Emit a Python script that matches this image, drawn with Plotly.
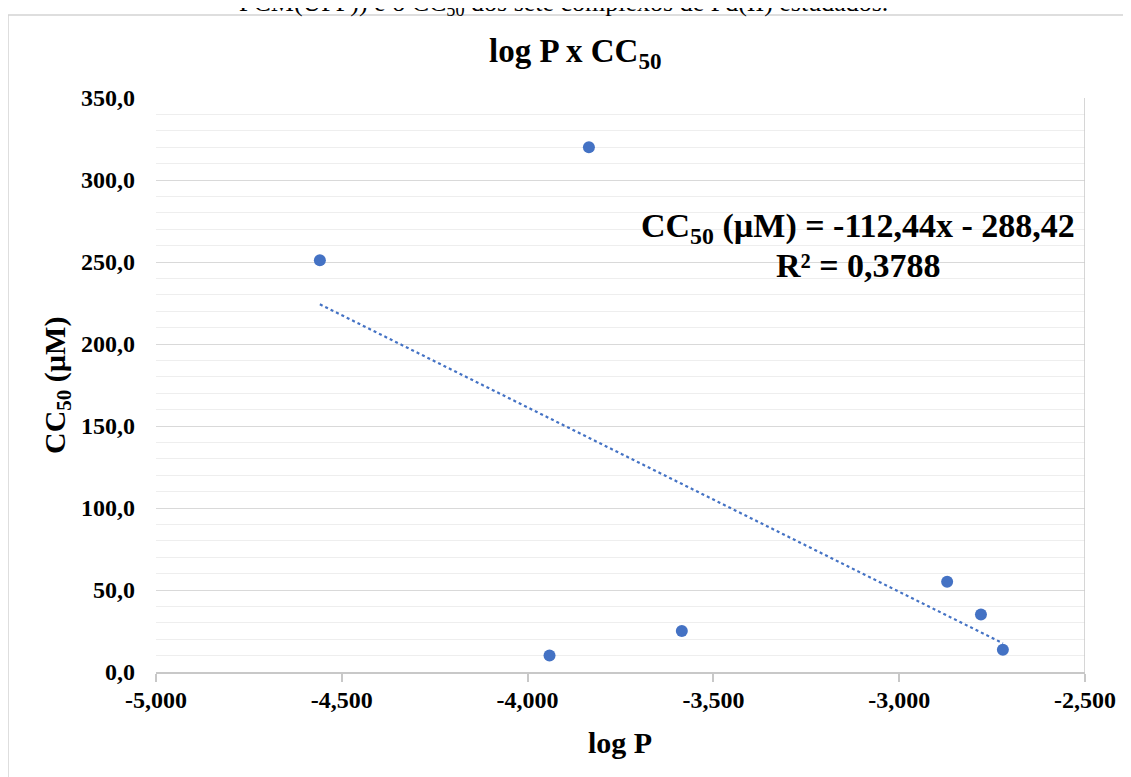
import plotly.graph_objects as go

# ---- data ----
LOG_P = [-4.559, -3.835, -3.941, -3.585, -2.871, -2.780, -2.721]
CC50 = [251.0, 320.0, 10.0, 25.0, 55.0, 35.0, 13.5]

SLOPE = -112.44
INTERCEPT = -288.42
EQ_TEXT = "CC<sub>50</sub> (µM) = -112,44x - 288,42"
R2_TEXT = "R² = 0,3788"

X_TICKS = [-5.0, -4.5, -4.0, -3.5, -3.0, -2.5]
X_TICK_LABELS = ["-5,000", "-4,500", "-4,000", "-3,500", "-3,000", "-2,500"]
Y_TICKS = [0, 50, 100, 150, 200, 250, 300, 350]
Y_TICK_LABELS = ["0,0", "50,0", "100,0", "150,0", "200,0", "250,0", "300,0", "350,0"]

TITLE = "log P x CC<sub>50</sub>"
X_TITLE = "log P"
Y_TITLE = "CC<sub>50</sub> (µM)"
CAPTION = "PCM(UFF)) e o CC<sub>50</sub> dos sete complexos de Pd(II) estudados."

BLUE = "#4472C4"
GRID = "#d9d9d9"
MINOR = "#eeeeee"
AXIS = "#c8c8c8"
FONT = "Liberation Serif, Times New Roman, serif"

OFF = 8  # page body margin
W, H = 1131 - OFF, 777 - OFF
# plot area in screen pixels
PL, PR, PT, PB = 156, 1085, 98, 672
ML, MR, MT, MB = PL - OFF, W - (PR - OFF), PT - OFF, H - (PB - OFF)
PW, PH = W - ML - MR, H - MT - MB


def sx(p):
    return (p - OFF - ML) / PW


def sy(p):
    return (H - MB - (p - OFF)) / PH


tx = [min(LOG_P), max(LOG_P)]
ty = [SLOPE * v + INTERCEPT for v in tx]

fig = go.Figure()
fig.add_trace(go.Scatter(
    x=tx, y=ty, mode="lines",
    line=dict(color=BLUE, width=2.2, dash="dot"),
    hoverinfo="skip", showlegend=False,
))
fig.add_trace(go.Scatter(
    x=LOG_P, y=CC50, mode="markers",
    marker=dict(color=BLUE, size=12),
    showlegend=False,
))

bold = lambda s: "<b>" + s + "</b>"

fig.update_layout(
    width=W, height=H,
    margin=dict(l=ML, r=MR, t=MT, b=MB, autoexpand=False),
    paper_bgcolor="white", plot_bgcolor="white",
    font=dict(family=FONT, color="black"),
    showlegend=False,
    xaxis=dict(
        range=[X_TICKS[0], X_TICKS[-1]],
        tickvals=X_TICKS, ticktext=[bold(t) for t in X_TICK_LABELS],
        tickfont=dict(size=24, family=FONT),
        showgrid=False, zeroline=False,
        showline=True, linecolor=AXIS, linewidth=1.5,
        ticks="outside", ticklen=8, tickcolor=AXIS, tickwidth=1.5,
        ticklabelstandoff=-3,
    ),
    yaxis=dict(
        range=[Y_TICKS[0], Y_TICKS[-1]],
        tickvals=Y_TICKS, ticktext=[bold(t) for t in Y_TICK_LABELS],
        tickfont=dict(size=24, family=FONT),
        showgrid=True, gridcolor=GRID, gridwidth=1.3,
        minor=dict(dtick=10, showgrid=True, gridcolor=MINOR, gridwidth=1),
        zeroline=False, showline=False, ticks="",
        ticklabelstandoff=20,
    ),
)

fig.update_layout(shapes=[
    dict(type="line", xref="x", yref="y", x0=X_TICKS[-1], x1=X_TICKS[-1],
         y0=Y_TICKS[0], y1=Y_TICKS[-1], line=dict(color=AXIS, width=1.5)),
    dict(type="rect", xref="paper", yref="paper",
         x0=sx(8), x1=sx(1145), y0=sy(790), y1=sy(15),
         line=dict(color="#d4d4d4", width=1.5), fillcolor="rgba(0,0,0,0)", layer="below"),
])


def note(text, x, y, size, angle=0, weight_bold=True):
    fig.add_annotation(
        text=bold(text) if weight_bold else text,
        xref="paper", yref="paper", x=sx(x), y=sy(y),
        xanchor="center", yanchor="middle", showarrow=False,
        textangle=angle, font=dict(size=size, family=FONT, color="black"),
    )


note(TITLE, 575, 54, 33)
note(EQ_TEXT, 858, 228, 34)
note(R2_TEXT, 858, 265, 34)
note(X_TITLE, 620, 742, 30)
note(Y_TITLE, 57, 386, 30, angle=-90)
note(CAPTION, 563, 4, 26, weight_bold=False)

fig.write_html("out.html")
